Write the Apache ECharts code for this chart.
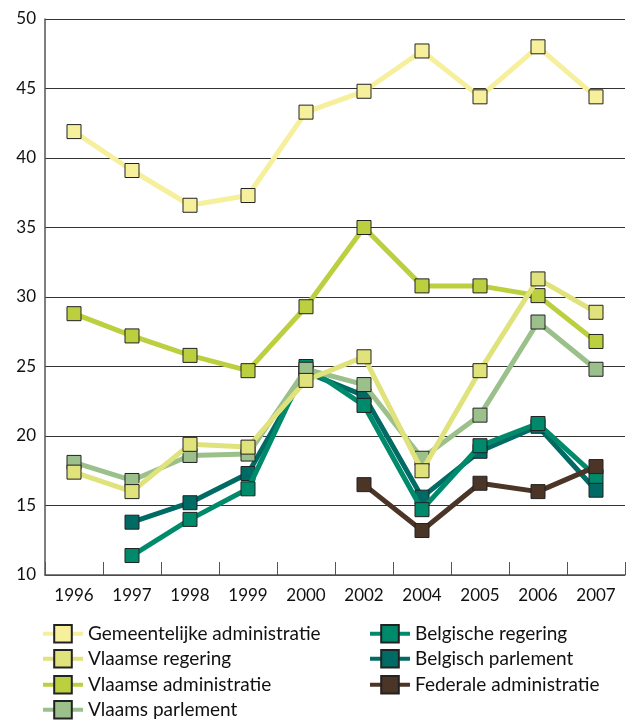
<!DOCTYPE html>
<html>
<head>
<meta charset="utf-8">
<script src="https://cdn.jsdelivr.net/npm/echarts@6/dist/echarts.min.js"></script>
<style>html,body{margin:0;padding:0;background:#fff}#c{width:628px;height:720px}</style>
</head>
<body>
<div id="c"></div>
<script>
var years = ['1996','1997','1998','1999','2000','2002','2004','2005','2006','2007'];
var gemeentelijkeAdministratie = [41.9, 39.1, 36.6, 37.3, 43.3, 44.8, 47.7, 44.4, 48.0, 44.4];
var vlaamseRegering = [17.4, 16.0, 19.4, 19.2, 24.0, 25.7, 17.5, 24.7, 31.3, 28.9];
var vlaamseAdministratie = [28.8, 27.2, 25.8, 24.7, 29.3, 35.0, 30.8, 30.8, 30.1, 26.8];
var vlaamsParlement = [18.1, 16.8, 18.6, 18.7, 24.8, 23.7, 18.4, 21.5, 28.2, 24.8];
var belgischeRegering = [null, 11.4, 14.0, 16.2, 25.0, 22.2, 14.7, 19.3, 20.9, 17.1];
var belgischParlement = [null, 13.8, 15.2, 17.3, 24.6, 22.9, 15.6, 18.9, 20.7, 16.1];
var federaleAdministratie = [null, null, null, null, null, 16.5, 13.2, 16.6, 16.0, 17.8];
var yTicks = {min: 10, max: 50, interval: 5};
var legendCol1 = ['Gemeentelijke administratie', 'Vlaamse regering', 'Vlaamse administratie', 'Vlaams parlement'];
var legendCol2 = ['Belgische regering', 'Belgisch parlement', 'Federale administratie'];

var FONT = 'Lato, "Noto Sans", sans-serif';

function mk(name, data, color, z) {
  return {
    name: name, type: 'line', data: data, z: z,
    symbol: 'rect', symbolSize: 14,
    lineStyle: {color: color, width: 5},
    itemStyle: {color: color, borderColor: '#222', borderWidth: 1},
    emphasis: {disabled: true},
    animation: false
  };
}

var series = [
  mk('Gemeentelijke administratie', gemeentelijkeAdministratie, '#f6ef9c', 2),
  mk('Vlaamse administratie', vlaamseAdministratie, '#bcd03f', 3),
  mk('Belgisch parlement', belgischParlement, '#006b64', 4),
  mk('Belgische regering', belgischeRegering, '#008a6c', 5),
  mk('Vlaams parlement', vlaamsParlement, '#9cc08c', 6),
  mk('Vlaamse regering', vlaamseRegering, '#e0e27c', 7),
  mk('Federale administratie', federaleAdministratie, '#4b3526', 8)
];

var rowCenters = [635, 660, 686, 711];
var legends = [];
function addLegend(name, left, row) {
  legends.push({
    left: left, top: rowCenters[row] - 11,
    itemWidth: 40, itemHeight: 22, padding: 0,
    lineStyle: {width: 4},
    textStyle: {fontFamily: FONT, fontSize: 19, color: '#111'},
    data: [name]
  });
}
legendCol1.forEach(function (n, i) { addLegend(n, 41, i); });
legendCol2.forEach(function (n, i) { addLegend(n, 368, i); });

var chart = echarts.init(document.getElementById('c'), null, {renderer: 'canvas'});
chart.setOption({
  animation: false,
  grid: {left: 45, right: 3, top: 19, bottom: 145},
  xAxis: {
    type: 'category', data: years, boundaryGap: true,
    axisLine: {lineStyle: {color: '#555', width: 1.5}},
    axisTick: {show: true, inside: true, length: 13, interval: 0, lineStyle: {color: '#555'}},
    axisLabel: {fontFamily: FONT, fontSize: 17, color: '#111', margin: 12, interval: 0}
  },
  yAxis: {
    type: 'value', min: yTicks.min, max: yTicks.max, interval: yTicks.interval,
    axisLine: {show: true, lineStyle: {color: '#555', width: 1.5}},
    axisTick: {show: false},
    axisLabel: {fontFamily: FONT, fontSize: 17, color: '#111', margin: 9},
    splitLine: {lineStyle: {color: '#333', width: 1}}
  },
  legend: legends,
  series: series
});
</script>
</body>
</html>
